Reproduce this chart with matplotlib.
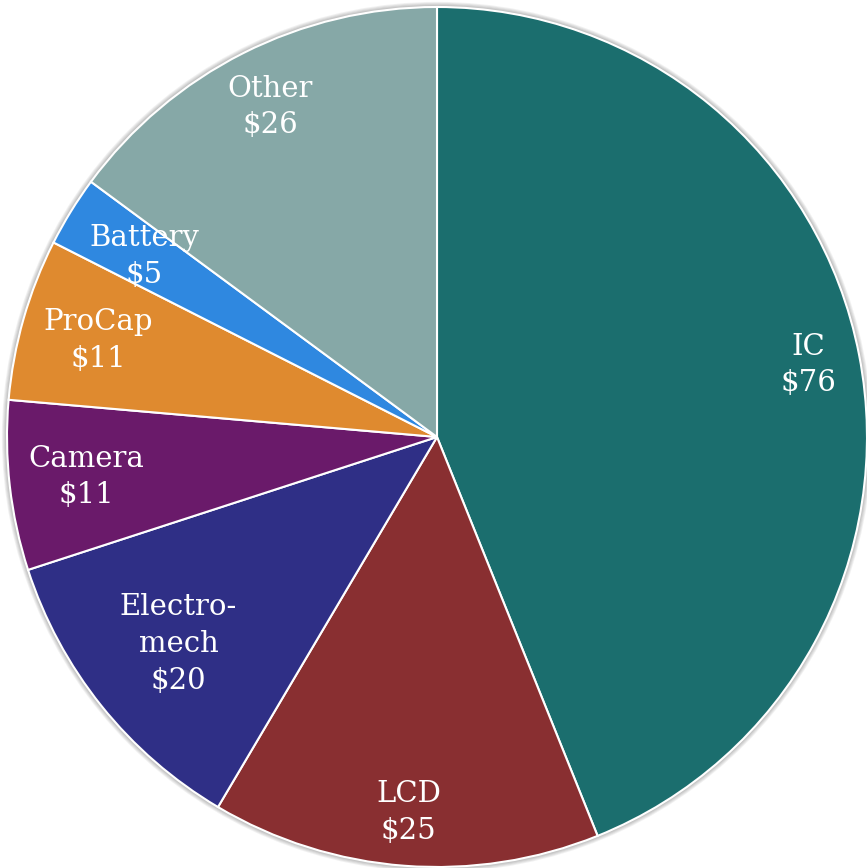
import numpy as np
import matplotlib.pyplot as plt
from matplotlib.patches import Circle

# -----------------------------
# Data (clockwise from the top)
# -----------------------------
labels = ['IC', 'LCD', 'Electro-\nmech', 'Camera', 'ProCap', 'Battery', 'Other']
values = [76.4, 25.4, 20.0, 11.1, 10.6, 4.6, 25.9]  # $ per unit
colors = ['#1b6e6e', '#892f31', '#2f2f86', '#6a1a6a', '#df8a2f', '#2f88e0', '#86a8a7']

# label distance from the centre, as a fraction of the radius
label_r = [0.88, 0.875, 0.77, 0.82, 0.82, 0.80, 0.86]

# -----------------------------
# Figure
# -----------------------------
fig = plt.figure(figsize=(8.67, 8.68), dpi=100)
ax = fig.add_axes([0, 0, 1, 1])
R = 430.0
cx, cy = 437.0, 868 - 437.0

# soft shadow around the pie
for i in range(6):
    ax.add_patch(Circle((0, 0.0), 1.0 + 0.002 * (i + 1), color='black',
                        alpha=0.05, lw=0, zorder=0))

wedges, _ = ax.pie(values, colors=colors, startangle=90, counterclock=False,
                   radius=1.0, wedgeprops=dict(edgecolor='white', linewidth=1.5),
                   frame=True)
ax.set_xlim(-cx / R, (867 - cx) / R)
ax.set_ylim(-cy / R, (868 - cy) / R)
ax.set_aspect('auto')
ax.axis('off')

for w, lab, val, r in zip(wedges, labels, values, label_r):
    ang = np.deg2rad((w.theta1 + w.theta2) / 2)
    x, y = r * np.cos(ang), r * np.sin(ang)
    ax.text(x, y, f'{lab}\n${val:.0f}', ha='center', va='center', color='white',
            fontsize=21, family='DejaVu Serif', linespacing=1.4)

fig.savefig('out.png', dpi=100)
